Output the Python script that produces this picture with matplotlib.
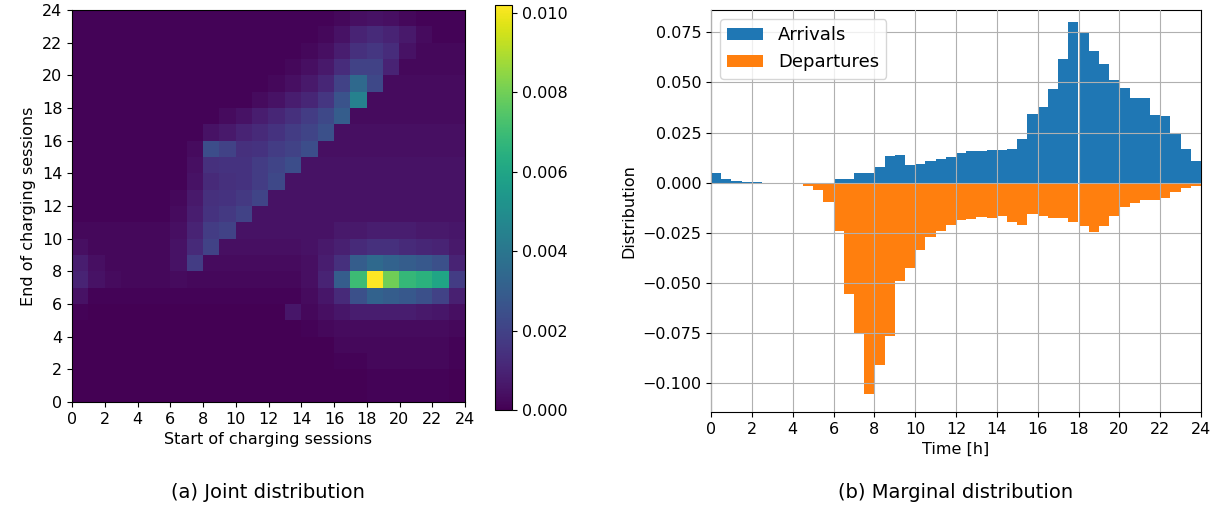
import numpy as np
import matplotlib
matplotlib.use("Agg")
import matplotlib.pyplot as plt

plt.rcParams["font.size"] = 11.5

# marginal distributions, 48 half-hour bins
arrivals = [0.005, 0.002, 0.001, 0.0005, 0.0002, 0.0001, 0, 0, 0, 0, 0, 0,
            0.0017, 0.002, 0.0047, 0.005, 0.008, 0.0135, 0.014, 0.009, 0.0095, 0.011, 0.012, 0.013,
            0.0147, 0.016, 0.016, 0.0165, 0.0165, 0.017, 0.022, 0.0345, 0.0375, 0.0465, 0.0615, 0.08,
            0.0745, 0.0655, 0.059, 0.051, 0.047, 0.042, 0.042, 0.034, 0.0335, 0.025, 0.017, 0.011]
departures = [-0.0008, -0.0003, -0.0003, -0.0003, 0, 0, 0, -0.0007, -0.0007, -0.0017, -0.0038, -0.0095,
              -0.024, -0.0553, -0.0748, -0.1053, -0.0908, -0.0763, -0.0488, -0.0423, -0.0333, -0.0273, -0.0243, -0.0213,
              -0.0188, -0.018, -0.0173, -0.0178, -0.0168, -0.0198, -0.0213, -0.0158, -0.0168, -0.0178, -0.0178, -0.0198,
              -0.0218, -0.0248, -0.0218, -0.0168, -0.0123, -0.0103, -0.0088, -0.0088, -0.0078, -0.0048, -0.0028, -0.0017]
bin_edges = [i * 0.5 for i in range(48)]

# joint distribution (x1e-4), rows = end hour 0..23, cols = start hour 0..23
joint_e4 = [
    [0]*18 + [1, 1, 1, 1, 1, 0],
    [0]*18 + [1, 1, 1, 1, 1, 0],
    [0]*16 + [1, 1, 2, 2, 2, 2, 2, 1],
    [0]*16 + [2, 2, 2, 2, 2, 2, 2, 1],
    [0]*14 + [1, 2, 3, 3, 3, 3, 3, 3, 3, 2],
    [1] + [0]*12 + [6, 2, 4, 6, 8, 8, 8, 8, 7, 6, 4],
    [5] + [1]*13 + [3, 6, 12, 25, 32, 30, 28, 25, 20, 9],
    [10, 5, 3, 2, 2, 2, 3, 2] + [2]*6 + [4, 10, 30, 70, 102, 80, 68, 65, 60, 18],
    [8, 4, 2, 2, 2, 2, 5, 18] + [3]*6 + [4, 8, 14, 30, 35, 32, 30, 28, 25, 10],
    [4, 2, 2, 2, 2, 2, 5, 12, 20] + [4]*5 + [5, 7, 9, 12, 14, 14, 12, 11, 10, 7],
    [2]*6 + [4, 10, 18, 20] + [5]*6 + [7, 7, 8, 8, 8, 7, 7, 6],
    [1]*6 + [3, 8, 15, 17, 20] + [5]*13,
    [1]*6 + [2, 7, 14, 15, 17, 21] + [5]*12,
    [1]*7 + [5, 12, 14, 15, 18, 22] + [5]*11,
    [1]*7 + [4, 14, 15, 15, 18, 21, 24] + [5]*10,
    [1]*7 + [3, 24, 20, 14, 15, 18, 20, 24] + [4]*9,
    [1]*8 + [5, 7, 10, 12, 15, 18, 21, 25] + [4]*8,
    [1]*9 + [3, 5, 8, 11, 14, 18, 22, 30] + [3]*7,
    [1]*11 + [3, 5, 8, 11, 16, 26, 45] + [3]*6,
    [1]*12 + [2, 4, 7, 11, 20, 35, 22] + [3]*5,
    [1]*13 + [2, 4, 7, 13, 20, 20, 10] + [2]*4,
    [1]*14 + [2, 4, 8, 14, 16, 13, 5] + [2]*3,
    [1]*15 + [2, 5, 10, 12, 10, 7, 3] + [1]*2,
    [1]*16 + [2, 4, 5, 4, 2] + [1]*3,
]
joint = np.array(joint_e4) * 1e-4

fig = plt.figure(figsize=(12.25, 5.12), dpi=100)
W, H = 1225, 512

# (a) heatmap
ax1 = fig.add_axes([72 / W, 1 - 402 / H, 393 / W, 392 / H])
im = ax1.imshow(joint, origin="lower", extent=[0, 24, 0, 24], cmap="viridis",
                vmin=0, vmax=0.0102, aspect="auto", interpolation="nearest")
ax1.set_xticks(range(0, 25, 2))
ax1.set_yticks(range(0, 25, 2))
ax1.set_xlabel("Start of charging sessions")
ax1.set_ylabel("End of charging sessions")
cax = fig.add_axes([495 / W, 1 - 410 / H, 17 / W, 405 / H])
cb = fig.colorbar(im, cax=cax)
cb.set_ticks([0, 0.002, 0.004, 0.006, 0.008, 0.010])
cb.set_ticklabels(["0.000", "0.002", "0.004", "0.006", "0.008", "0.010"])

# (b) marginals
ax2 = fig.add_axes([711 / W, 1 - 412 / H, 490 / W, 402 / H])
ax2.bar(bin_edges, arrivals, width=0.5, align="edge", color="#1f77b4", label="Arrivals")
ax2.bar(bin_edges, departures, width=0.5, align="edge", color="#ff7f0e", label="Departures")
ax2.set_xlim(0, 24)
ax2.set_ylim(-0.1143, 0.0861)
ax2.set_xticks(range(0, 25, 2))
ax2.set_yticks([-0.1, -0.075, -0.05, -0.025, 0, 0.025, 0.05, 0.075])
ax2.set_yticklabels(["\u22120.100", "\u22120.075", "\u22120.050", "\u22120.025", "0.000", "0.025", "0.050", "0.075"])
ax2.grid(True, color="#b0b0b0")
ax2.set_axisbelow(False)
ax2.set_xlabel("Time [h]")
ax2.set_ylabel("Distribution")
ax2.legend(loc="upper left", fontsize=13)

fig.text(268 / W, 1 - 493 / H, "(a) Joint distribution", ha="center", va="center", fontsize=14)
fig.text(956 / W, 1 - 493 / H, "(b) Marginal distribution", ha="center", va="center", fontsize=14)

fig.savefig("out.png", dpi=100)
